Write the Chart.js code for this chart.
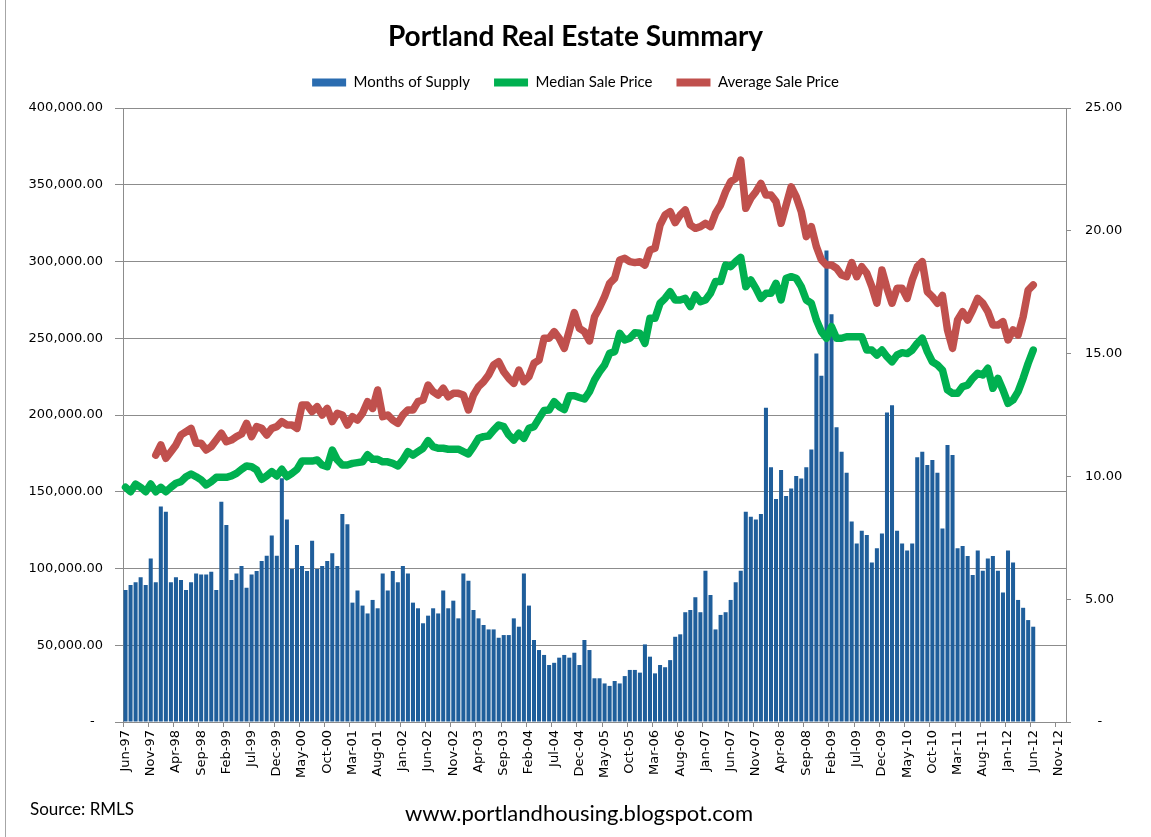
<!DOCTYPE html>
<html lang="en">
<head>
<meta charset="UTF-8">
<title>Portland Real Estate Summary</title>
<script src="https://cdn.jsdelivr.net/npm/chart.js"></script>
<style>
  html, body { margin: 0; padding: 0; background: #fff; }
  #wrap { position: relative; width: 1151px; height: 837px; }
  #edge { position: absolute; left: 5px; top: 0; width: 1px; height: 837px; background: #a6a6a6; }
  .note { position: absolute; font-family: Lato, 'Open Sans', sans-serif; color: #000; white-space: nowrap; line-height: 1.2; }
  #source { left: 30px; top: 799px; font-size: 17px; }
  #site { left: 0; width: 1158px; text-align: center; top: 800px; font-size: 22px; }
</style>
</head>
<body>
<div id="wrap">
  <canvas id="chart"></canvas>
  <div id="edge"></div>
  <div class="note" id="source">Source: RMLS</div>
  <div class="note" id="site">www.portlandhousing.blogspot.com</div>
</div>
<script>
// categories: monthly, Jun-97 through Dec-12 (axis runs a few months past the data)
const monthNames = ['Jan', 'Feb', 'Mar', 'Apr', 'May', 'Jun', 'Jul', 'Aug', 'Sep', 'Oct', 'Nov', 'Dec'];
const months = [];
for (let y = 1997; y <= 2012; y++) {
    for (let m = 0; m < 12; m++) {
        if (y === 1997 && m < 5) continue;
        months.push(monthNames[m] + '-' + String(y).slice(2));
    }
}

// months of supply (right axis), Jun-97 .. Jun-12
const monthsOfSupply = [
    5.37, 5.58, 5.69, 5.89, 5.58, 6.66, 5.69, 8.77, 8.56, 5.69,
    5.89, 5.78, 5.37, 5.69, 6.05, 6.01, 6.01, 6.12, 5.37, 8.97,
    8.02, 5.78, 6.05, 6.35, 5.47, 6.01, 6.15, 6.56, 6.77, 7.59,
    6.77, 9.92, 8.25, 6.23, 7.21, 6.35, 6.15, 7.38, 6.23, 6.35,
    6.56, 6.87, 6.35, 8.47, 8.05, 4.86, 5.35, 4.74, 4.42, 4.97,
    4.63, 6.05, 5.35, 6.15, 5.69, 6.35, 6.05, 4.86, 4.63, 4.02,
    4.33, 4.63, 4.42, 5.35, 4.63, 4.94, 4.22, 6.05, 5.75, 4.56,
    4.22, 3.95, 3.77, 3.77, 3.43, 3.54, 3.54, 4.22, 3.88, 6.05,
    4.74, 3.34, 2.93, 2.73, 2.32, 2.41, 2.62, 2.73, 2.62, 2.82,
    2.32, 3.34, 2.93, 1.78, 1.78, 1.57, 1.47, 1.67, 1.57, 1.87,
    2.12, 2.12, 2.01, 3.16, 2.66, 1.98, 2.32, 2.23, 2.52, 3.47,
    3.57, 4.47, 4.56, 5.08, 4.47, 6.16, 5.17, 3.77, 4.36, 4.47,
    4.97, 5.69, 6.16, 8.56, 8.36, 8.25, 8.47, 12.8, 10.37, 9.08,
    10.26, 9.20, 9.51, 10.02, 9.91, 10.37, 11.10, 15.0, 14.1, 19.2,
    16.6, 12.0, 11.0, 10.15, 8.16, 7.27, 7.79, 7.61, 6.49, 7.07,
    7.68, 12.6, 12.9, 7.79, 7.27, 6.98, 7.27, 10.78, 11.0, 10.46,
    10.67, 10.15, 7.88, 11.28, 10.87, 7.07, 7.17, 6.76, 5.99, 6.98,
    6.16, 6.66, 6.76, 6.16, 5.27, 6.98, 6.49, 4.97, 4.65, 4.15,
    3.88
];

// median sale price (left axis)
const medianPrice = [
    152900, 150000, 155000, 152900, 150000, 155000, 150000, 152900, 150000, 152900,
    155500, 156600, 159800, 161600, 159800, 157700, 154400, 156600, 159400, 159400,
    159400, 160300, 162000, 164600, 166800, 166300, 164200, 158100, 160300, 163100,
    160300, 164600, 159800, 162000, 164600, 170000, 170000, 170000, 170700, 167400,
    166300, 177200, 170700, 167400, 167400, 168500, 169000, 169500, 174100, 171100,
    171100, 169500, 169500, 168500, 166800, 170700, 176100, 173900, 176100, 178300,
    183300, 179400, 178300, 178300, 177700, 177700, 177700, 176100, 174600, 179400,
    184800, 185900, 186300, 190200, 193500, 192400, 187000, 183700, 188100, 184800,
    191300, 192400, 197800, 203000, 203300, 208700, 205400, 203500, 212500, 212500,
    211400, 210400, 215200, 222800, 228200, 232600, 240200, 241300, 253200, 248900,
    250000, 253600, 253200, 246700, 263000, 263000, 272800, 276000, 280300, 274900,
    274900, 276000, 270600, 278200, 273800, 274900, 279300, 286900, 286900, 297700,
    296600, 299900, 302700, 283600, 288000, 282500, 276000, 279300, 279300, 285800,
    274900, 289100, 290100, 289100, 283600, 274900, 272800, 261900, 254300, 250000,
    257500, 250000, 250000, 251000, 251000, 251000, 251000, 242300, 242300, 239100,
    242300, 238000, 234700, 239100, 240600, 240000, 242300, 246700, 250000, 241300,
    234700, 232600, 229300, 216300, 214100, 214100, 218500, 219500, 223900, 227200,
    226100, 230400, 217400, 223900, 216300, 207600, 209800, 215200, 223900, 233700,
    242300
];

// average sale price (left axis), series begins Dec-97
const averagePrice = [
    null, null, null, null, null, null, 173900, 180500, 171800, 176100,
    180500, 187000, 189100, 191300, 181600, 181600, 177200, 179400, 183700, 188100,
    182600, 183700, 185900, 187600, 194600, 185900, 192400, 191300, 187000, 191300,
    192400, 195700, 193500, 193500, 191300, 206500, 206500, 202200, 205400, 200000,
    204300, 195700, 201100, 200000, 193500, 198900, 196700, 201100, 208700, 204300,
    216300, 198900, 200000, 196700, 194600, 200000, 203300, 203300, 208700, 209800,
    219500, 215200, 213000, 217400, 211900, 214100, 214100, 213000, 203300, 213000,
    218500, 221700, 226100, 232600, 234700, 228200, 223900, 220600, 229300, 221700,
    225000, 233700, 235800, 250000, 250000, 254300, 250000, 243400, 254800, 266700,
    256400, 254300, 248300, 264000, 270000, 277100, 285800, 289100, 301000, 302100,
    299900, 299300, 299900, 297700, 307500, 308600, 323800, 330300, 332500, 325300,
    330300, 333600, 323800, 321600, 322700, 324900, 322700, 331400, 336800, 345500,
    352000, 354200, 366100, 334700, 341200, 345500, 350900, 343300, 343300, 339000,
    324900, 336800, 348700, 342200, 332500, 316200, 322700, 309700, 301000, 297700,
    297700, 295600, 291200, 290100, 299300, 290100, 296600, 292300, 283600, 272800,
    294500, 282500, 272800, 282500, 282500, 276000, 288000, 296600, 299900, 280300,
    277100, 272800, 277900, 255400, 243400, 261900, 267300, 261900, 268400, 276000,
    272800, 267300, 258600, 258600, 260800, 248900, 255400, 252100, 264000, 281400,
    284700
];

const seriesColors = ['#2a6cb0', '#00b050', '#c0504d'];
const axisGray = '#8c8c8c';
const tickFont = { family: 'DejaVu Sans', size: 13 };

function main() {
    const ctx = document.getElementById('chart').getContext('2d');
    new Chart(ctx, {
        data: {
            labels: months,
            datasets: [
                {
                    type: 'bar',
                    label: 'Months of Supply',
                    data: monthsOfSupply,
                    yAxisID: 'ySupply',
                    backgroundColor: '#1f5e9b',
                    borderWidth: 0,
                    barPercentage: 0.8,
                    categoryPercentage: 1.0,
                    order: 3
                },
                {
                    type: 'line',
                    label: 'Median Sale Price',
                    data: medianPrice,
                    yAxisID: 'yPrice',
                    borderColor: seriesColors[1],
                    backgroundColor: seriesColors[1],
                    borderWidth: 7.5,
                    pointRadius: 0,
                    tension: 0,
                    borderJoinStyle: 'round',
                    borderCapStyle: 'round',
                    order: 2
                },
                {
                    type: 'line',
                    label: 'Average Sale Price',
                    data: averagePrice,
                    yAxisID: 'yPrice',
                    borderColor: seriesColors[2],
                    backgroundColor: seriesColors[2],
                    borderWidth: 7.5,
                    pointRadius: 0,
                    tension: 0,
                    borderJoinStyle: 'round',
                    borderCapStyle: 'round',
                    order: 1
                }
            ]
        },
        options: {
            responsive: true,
            maintainAspectRatio: false,
            animation: false,
            layout: { padding: { top: 23, left: 0, right: 0, bottom: 35 } },
            plugins: {
                title: {
                    display: true,
                    text: 'Portland Real Estate Summary',
                    color: '#000',
                    font: { family: 'Lato', size: 28, weight: 'bold', lineHeight: 1.0 },
                    padding: { top: 0, bottom: 0 }
                },
                // empty spacer between legend and plot area
                subtitle: {
                    display: true,
                    text: '',
                    weight: 500,
                    font: { size: 1 },
                    padding: { top: 0, bottom: 6.8 }
                },
                legend: {
                    display: true,
                    position: 'top',
                    labels: {
                        boxWidth: 34,
                        boxHeight: 8,
                        padding: 24,
                        color: '#000',
                        font: { family: 'Lato', size: 15 },
                        sort: (a, b) => a.datasetIndex - b.datasetIndex,
                        generateLabels: (chart) => chart.data.datasets.map((ds, i) => ({
                            text: ds.label,
                            fillStyle: seriesColors[i],
                            strokeStyle: seriesColors[i],
                            lineWidth: 0,
                            hidden: false,
                            datasetIndex: i,
                            fontColor: '#000'
                        }))
                    }
                },
                tooltip: { enabled: false }
            },
            scales: {
                x: {
                    type: 'category',
                    offset: true,
                    border: { display: true, color: axisGray },
                    grid: {
                        offset: true,
                        drawOnChartArea: false,
                        drawTicks: true,
                        tickLength: 5,
                        color: (c) => (c.index % 5 === 0 ? axisGray : 'rgba(0,0,0,0)')
                    },
                    ticks: {
                        autoSkip: false,
                        minRotation: 90,
                        maxRotation: 90,
                        padding: 3,
                        color: '#000',
                        font: tickFont,
                        callback: (val, idx) => (idx % 5 === 0 ? months[idx] : '')
                    },
                    afterFit: (s) => { s.height = 80; }
                },
                yPrice: {
                    type: 'linear',
                    position: 'left',
                    min: 0,
                    max: 400000,
                    border: { display: true, color: axisGray },
                    grid: { color: axisGray, tickLength: 8 },
                    ticks: {
                        stepSize: 50000,
                        padding: 12,
                        color: '#000',
                        font: tickFont,
                        callback: (v) => (v === 0 ? '-  ' : v.toLocaleString('en-US', { minimumFractionDigits: 2, maximumFractionDigits: 2 }))
                    },
                    afterFit: (s) => { s.width = 123; }
                },
                ySupply: {
                    type: 'linear',
                    position: 'right',
                    min: 0,
                    max: 25,
                    border: { display: true, color: axisGray },
                    grid: { drawOnChartArea: false, color: axisGray, tickLength: 5 },
                    ticks: {
                        stepSize: 5,
                        padding: 14,
                        color: '#000',
                        font: tickFont,
                        callback: (v) => (v === 0 ? '   -' : v.toFixed(2))
                    },
                    afterFit: (s) => { s.width = 85; }
                }
            }
        }
    });
}

main();
</script>
</body>
</html>
